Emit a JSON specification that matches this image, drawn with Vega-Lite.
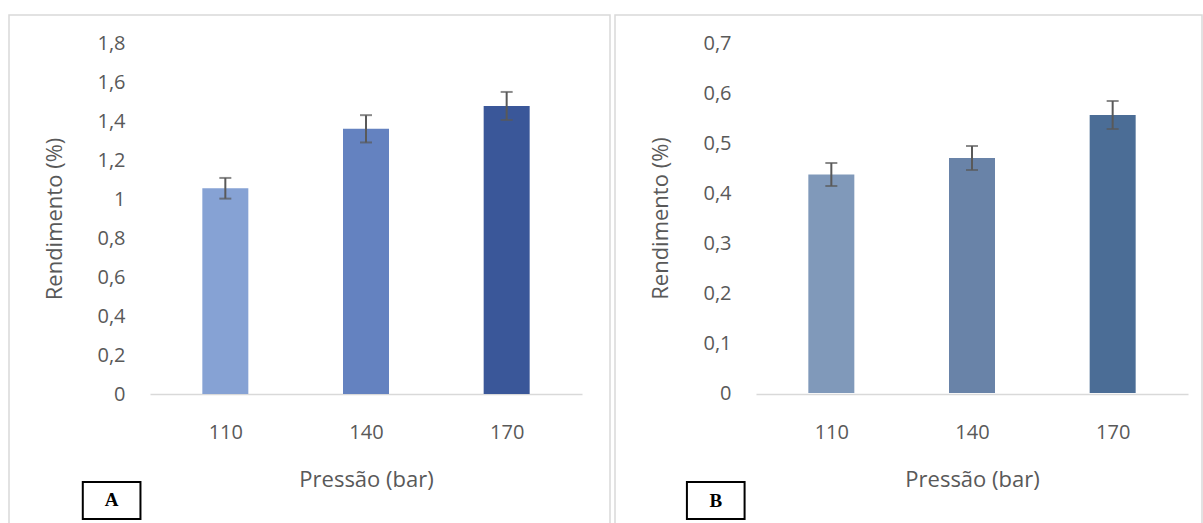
{
  "$schema": "https://vega.github.io/schema/vega-lite/v6.json",
  "padding": {"left": 8, "top": 14, "right": 0, "bottom": 0},
  "spacing": 3,
  "config": {
    "font": "Open Sans",
    "view": {"stroke": "#d9d9d9", "strokeWidth": 1.5},
    "axis": {
      "grid": false,
      "ticks": false,
      "tickSize": 0,
      "labelColor": "#595959",
      "titleColor": "#595959",
      "labelFont": "Open Sans",
      "titleFont": "Open Sans",
      "labelFontSize": 20,
      "titleFontSize": 22,
      "titleFontWeight": "normal",
      "labelOverlap": false,
      "labelFlush": false
    },
    "axisY": {"domain": false, "offset": -116, "labelPadding": 0, "titlePadding": 30},
    "axisX": {"domainColor": "#d9d9d9", "domainWidth": 1.5, "offset": -141, "labelPadding": 28, "titlePadding": 27}
  },
  "hconcat": [
    {
      "width": 601,
      "height": 520,
      "layer": [
        {
          "data": {"values": [
            {"pressao": 110, "rendimento": 1.055, "erro": 0.053},
            {"pressao": 140, "rendimento": 1.36, "erro": 0.07},
            {"pressao": 170, "rendimento": 1.477, "erro": 0.072}
          ]},
          "layer": [
            {
              "mark": {"type": "bar", "width": 46},
              "encoding": {
                "x": {"field": "pressao", "type": "quantitative",
                      "scale": {"domain": [95, 185], "range": [141, 573], "zero": false, "nice": false},
                      "axis": {"title": "Pressão (bar)", "values": [110, 140, 170]}},
                "y": {"field": "rendimento", "type": "quantitative",
                      "scale": {"domain": [0, 1.8], "range": [379, 28], "nice": false},
                      "axis": {"title": "Rendimento (%)", "values": [0, 0.2, 0.4, 0.6, 0.8, 1, 1.2, 1.4, 1.6, 1.8],
                               "labelExpr": "replace(format(datum.value, '.1~f'), '.', ',')"}},
                "color": {"field": "pressao", "type": "nominal", "legend": null,
                          "scale": {"domain": [110, 140, 170], "range": ["#86a2d4", "#6482c0", "#3a5799"]}}
              }
            },
            {
              "mark": {"type": "errorbar", "color": "#595959",
                       "rule": {"strokeWidth": 2},
                       "ticks": {"size": 12, "thickness": 2, "color": "#595959"}},
              "encoding": {
                "x": {"field": "pressao", "type": "quantitative", "title": "Pressão (bar)"},
                "y": {"field": "rendimento", "type": "quantitative", "title": "Rendimento (%)"},
                "yError": {"field": "erro"}
              }
            }
          ]
        },
        {
          "data": {"values": [{"painel": "A"}]},
          "layer": [
            {
              "mark": {"type": "rect", "fill": "white", "stroke": "black", "strokeWidth": 2},
              "encoding": {
                "x": {"datum": 79.6}, "x2": {"datum": 91.9},
                "y": {"datum": -0.451}, "y2": {"datum": -0.641}
              }
            },
            {
              "mark": {"type": "text", "font": "Liberation Serif", "fontWeight": "bold", "fontSize": 19, "color": "black", "baseline": "middle", "align": "center"},
              "encoding": {
                "text": {"field": "painel"},
                "x": {"datum": 85.75},
                "y": {"datum": -0.546}
              }
            }
          ]
        }
      ]
    },
    {
      "width": 587,
      "height": 520,
      "layer": [
        {
          "data": {"values": [
            {"pressao": 110, "rendimento": 0.437, "erro": 0.023},
            {"pressao": 140, "rendimento": 0.47, "erro": 0.024},
            {"pressao": 170, "rendimento": 0.556, "erro": 0.028}
          ]},
          "layer": [
            {
              "mark": {"type": "bar", "width": 46},
              "encoding": {
                "x": {"field": "pressao", "type": "quantitative",
                      "scale": {"domain": [95, 185], "range": [141, 573], "zero": false, "nice": false},
                      "axis": {"title": "Pressão (bar)", "values": [110, 140, 170]}},
                "y": {"field": "rendimento", "type": "quantitative",
                      "scale": {"domain": [0, 0.7], "range": [378, 28], "nice": false},
                      "axis": {"title": "Rendimento (%)", "values": [0, 0.1, 0.2, 0.3, 0.4, 0.5, 0.6, 0.7],
                               "labelExpr": "replace(format(datum.value, '.1~f'), '.', ',')"}},
                "color": {"field": "pressao", "type": "nominal", "legend": null,
                          "scale": {"domain": [110, 140, 170], "range": ["#8099ba", "#6983a8", "#4b6d96"]}}
              }
            },
            {
              "mark": {"type": "errorbar", "color": "#595959",
                       "rule": {"strokeWidth": 2},
                       "ticks": {"size": 12, "thickness": 2, "color": "#595959"}},
              "encoding": {
                "x": {"field": "pressao", "type": "quantitative", "title": "Pressão (bar)"},
                "y": {"field": "rendimento", "type": "quantitative", "title": "Rendimento (%)"},
                "yError": {"field": "erro"}
              }
            }
          ]
        },
        {
          "data": {"values": [{"painel": "B"}]},
          "layer": [
            {
              "mark": {"type": "rect", "fill": "white", "stroke": "black", "strokeWidth": 2},
              "encoding": {
                "x": {"datum": 79.2}, "x2": {"datum": 91.5},
                "y": {"datum": -0.178}, "y2": {"datum": -0.252}
              }
            },
            {
              "mark": {"type": "text", "font": "Liberation Serif", "fontWeight": "bold", "fontSize": 19, "color": "black", "baseline": "middle", "align": "center"},
              "encoding": {
                "text": {"field": "painel"},
                "x": {"datum": 85.35},
                "y": {"datum": -0.215}
              }
            }
          ]
        }
      ]
    }
  ],
  "resolve": {"scale": {"color": "independent", "y": "independent"}}
}
